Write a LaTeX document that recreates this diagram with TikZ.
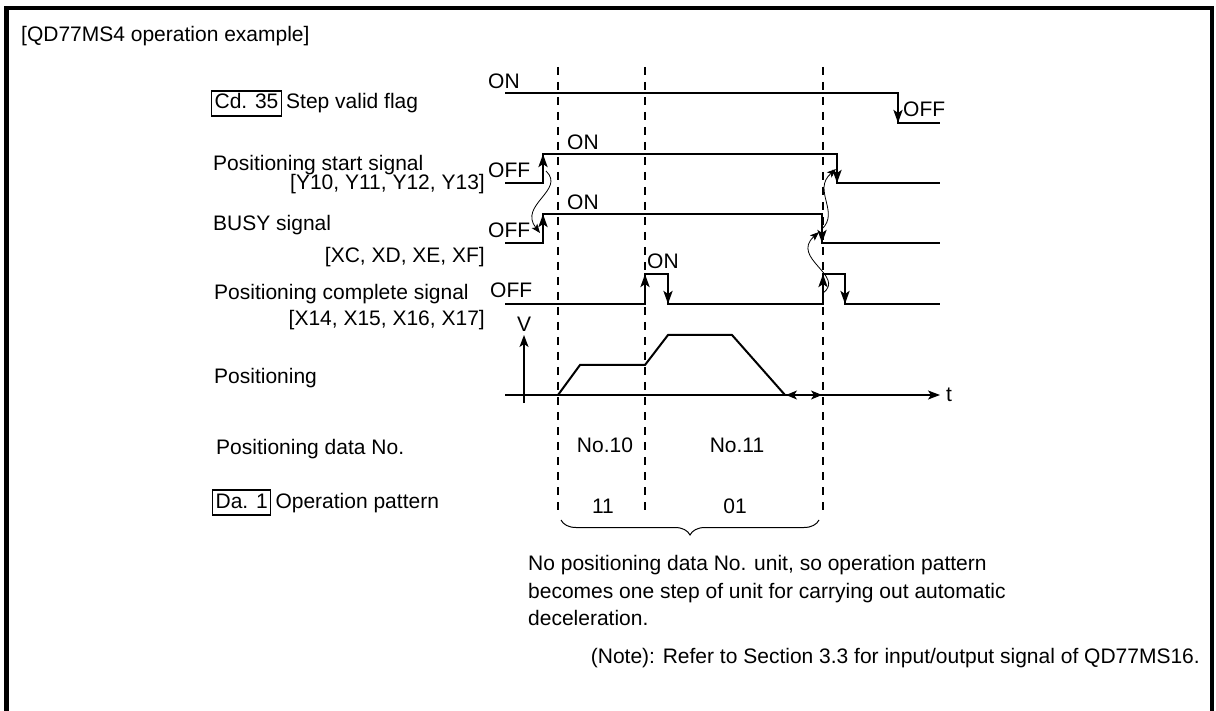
\documentclass[tikz,border=0pt]{standalone}
\usepackage{fontspec}
\setmainfont{Liberation Sans}
\usetikzlibrary{arrows.meta,decorations.pathreplacing}
\begin{document}
\begin{tikzpicture}[x=1pt,y=-1pt,
  every node/.style={font=\fontsize{21}{25}\selectfont, inner sep=0pt},
  lbl/.style={anchor=base west},
  lblr/.style={anchor=base east},
  sig/.style={line width=2.8pt},
  sigarrow/.style={line width=2.8pt,-{Stealth[length=13pt,width=9pt,inset=3pt]}},
  vel/.style={line width=2pt},
  axisline/.style={line width=1.4pt},
  axtip/.style={-{Stealth[length=12pt,width=9pt,inset=3pt]}},
  guideline/.style={line width=1.3pt,dash pattern=on 8pt off 7pt},
  cause/.style={line width=0.8pt,-{Stealth[length=9pt,width=7pt,inset=2pt]}},
  tagbox/.style={draw,line width=1.2pt,inner sep=3pt,text height=15pt,text depth=4pt}
]
\useasboundingbox (0,0) rectangle (1216,711);
% frame
\draw[line width=4.5pt] (6.5,725) -- (6.5,8) -- (1212,8) -- (1212,725);

% labels
\node[lbl] (title) at (21,42) {[QD77MS4 operation example]};
\node[tagbox,lbl] (cd) at (211,109) {Cd. 35};
\node[lbl] (svf) at ([xshift=4pt]cd.base east) {Step valid flag};
\node[lbl] (pss) at (213,171) {Positioning start signal};
\node[lblr] (pssy) at (485,190) {[Y10, Y11, Y12, Y13]};
\node[lbl] (busy) at (213,231) {BUSY signal};
\node[lblr] (busyx) at (485,263) {[XC, XD, XE, XF]};
\node[lbl] (pcs) at (214,300) {Positioning complete signal};
\node[lblr] (pcsx) at (485,326) {[X14, X15, X16, X17]};
\node[lbl] (pos) at (214,384) {Positioning};
\node[lbl] (pdn) at (216,454) {Positioning data No.};
\node[tagbox,lbl] (da) at (212,508) {Da. 1};
\node[lbl] (op) at ([xshift=4pt]da.base east) {Operation pattern};

% ON / OFF
\node[lbl] (on1) at (488,89) {ON};
\node[lbl] (off1) at (903,117) {OFF};
\node[lbl] (on2) at (567,150) {ON};
\node[lbl] (off2) at (488,178) {OFF};
\node[lbl] (on3) at (567,210) {ON};
\node[lbl] (off3) at (488,238) {OFF};
\node[lbl] (on4) at (647,269) {ON};
\node[lbl] (off4) at (490,298) {OFF};

% guide lines
\foreach \gx in {558,645,823}{\draw[guideline] (\gx,67) -- (\gx,515);}

% step valid flag
\draw[sig] (505,93) -- (898,93) -- (898,123) -- (940,123);
\draw[sigarrow] (898,93) -- (898,123);
% start signal
\draw[sig] (505,183) -- (543,183) -- (543,154) -- (837,154) -- (837,183) -- (940,183);
\draw[sigarrow] (543,183) -- (543,154);
\draw[sigarrow] (837,154) -- (837,183);
% busy
\draw[sig] (505,243) -- (543,243) -- (543,214) -- (822,214) -- (822,243) -- (940,243);
\draw[sigarrow] (543,243) -- (543,214);
\draw[sigarrow] (822,214) -- (822,243);
% complete
\draw[sig] (505,304) -- (645,304) -- (645,274) -- (668,274) -- (668,304) -- (823,304) -- (823,274) -- (845,274) -- (845,304) -- (940,304);
\draw[sigarrow] (645,304) -- (645,274);
\draw[sigarrow] (668,274) -- (668,304);
\draw[sigarrow] (823,304) -- (823,274);
\draw[sigarrow] (845,274) -- (845,304);

% cause arrows
\draw[cause] (546,171) .. controls (566,190) and (518,205) .. (540,233);
\draw[cause] (822,229) .. controls (840,212) and (812,190) .. (836,169);
\draw[cause] (823,293) .. controls (846,276) and (790,258) .. (819,232);

% positioning axes
\draw[axisline,axtip] (505,395) -- (940,395);
\draw[axisline,axtip] (524,403) -- (524,335);
\node[anchor=base] (v) at (524,332) {V};
\node[lbl] (t) at (946,402) {t};
\draw[vel] (558,395) -- (580,365) -- (645,365) -- (668,335) -- (732,335) -- (785,395);
\draw[axisline,{Stealth[length=11pt,width=9pt,inset=3pt]}-] (786,395) -- (801,395);
\draw[axisline,-{Stealth[length=11pt,width=9pt,inset=3pt]}] (807,395) -- (822,395);

% data numbers and patterns
\node[anchor=base] (n10) at (605,452) {No.10};
\node[anchor=base] (n11) at (737,452) {No.11};
\node[anchor=base] (p11) at (603,513) {11};
\node[anchor=base] (p01) at (735,513) {01};
\draw[line width=1pt,decorate,decoration={brace,mirror,amplitude=15pt}] (561,520) -- (819,520);

% explanation
\node[lbl] (e1) at (528,570) {No positioning data No. unit, so operation pattern};
\node[lbl] (e2) at (528,598) {becomes one step of unit for carrying out automatic};
\node[lbl] (e3) at (528,625) {deceleration.};
\node[lblr] (note) at (1200,663) {(Note): Refer to Section 3.3 for input/output signal of QD77MS16.};
\end{tikzpicture}
\end{document}
